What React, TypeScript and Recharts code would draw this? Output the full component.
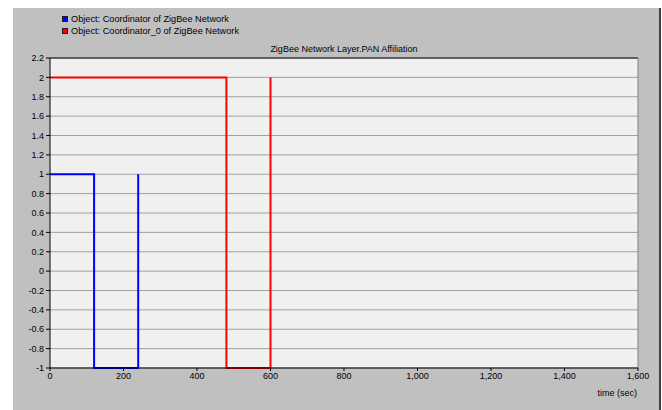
import React from "react";
import {
  LineChart,
  Line,
  XAxis,
  YAxis,
  CartesianGrid,
  ReferenceLine,
} from "recharts";

const blueTimes = [0, 120, 120, 240, 240];
const blueValues = [1, 1, -1, -1, 1];
const redTimes = [0, 480, 480, 600, 600];
const redValues = [2, 2, -1, -1, 2];
const xTicks = [0, 200, 400, 600, 800, 1000, 1200, 1400, 1600];
const yTicks = [-1, -0.8, -0.6, -0.4, -0.2, 0, 0.2, 0.4, 0.6, 0.8, 1, 1.2, 1.4, 1.6, 1.8, 2, 2.2];
const seriesNames = [
  "Object: Coordinator of ZigBee Network",
  "Object: Coordinator_0 of ZigBee Network",
];
const title = "ZigBee Network Layer.PAN Affiliation";
const xLabel = "time (sec)";

const blueData = blueTimes.map((t, i) => ({ t, v: blueValues[i] }));
const redData = redTimes.map((t, i) => ({ t, v: redValues[i] }));

const FONT = "'Liberation Sans', Arial, sans-serif";

const fmtX = (v: number) => v.toLocaleString("en-US");
const fmtY = (v: number) => {
  const r = Math.round(v * 10) / 10;
  return String(r);
};

export default function App() {
  return (
    <div
      style={{
        position: "absolute",
        left: 0,
        top: 0,
        width: 662,
        height: 410,
        background: "#ffffff",
        fontFamily: FONT,
      }}
    >
      <div
        style={{
          position: "absolute",
          left: 13,
          top: 8,
          width: 646,
          height: 402,
          background: "#c0c0c0",
          borderRight: "2px solid #404040",
        }}
      />
      {seriesNames.map((name, i) => (
        <div
          key={name}
          style={{
            position: "absolute",
            left: 62,
            top: 13 + i * 12,
            height: 12,
            display: "flex",
            alignItems: "center",
            fontSize: 9.2,
            color: "#000",
            whiteSpace: "nowrap",
          }}
        >
          <span
            style={{
              display: "inline-block",
              width: 4,
              height: 4,
              border: "1px solid #202020",
              background: i === 0 ? "#0000ff" : "#ff0000",
              marginRight: 3,
              boxSizing: "content-box",
            }}
          />
          <span>{name}</span>
        </div>
      ))}
      <div
        style={{
          position: "absolute",
          left: 50,
          width: 588,
          top: 44,
          textAlign: "center",
          fontSize: 9,
          color: "#000",
        }}
      >
        {title}
      </div>
      <div
        style={{
          position: "absolute",
          right: 662 - 637,
          top: 388,
          fontSize: 9,
          color: "#000",
        }}
      >
        {xLabel}
      </div>
      <div style={{ position: "absolute", left: 0, top: 0 }}>
        <LineChart
          width={662}
          height={410}
          margin={{ top: 58, right: 24, bottom: 12, left: 0 }}
        >
          <CartesianGrid vertical={false} stroke="#a0a0a0" fill="#f0f0f0" />
          <XAxis
            type="number"
            dataKey="t"
            domain={[0, 1600]}
            ticks={xTicks}
            tickFormatter={fmtX}
            height={30}
            stroke="#000"
            tickSize={3}
            tick={{ fill: "#000", fontSize: 9, fontFamily: FONT }}
            interval={0}
          />
          <YAxis
            type="number"
            domain={[-1, 2.2]}
            ticks={yTicks}
            tickFormatter={fmtY}
            width={50}
            stroke="#000"
            tickSize={4}
            tick={{ fill: "#000", fontSize: 9, fontFamily: FONT }}
            interval={0}
          />
          <ReferenceLine y={2.2} stroke="#404040" strokeWidth={1.5} />
          <ReferenceLine x={1600} stroke="#808080" strokeWidth={1} />
          <Line
            data={blueData}
            dataKey="v"
            type="linear"
            stroke="#0000ff"
            strokeWidth={2}
            dot={false}
            isAnimationActive={false}
          />
          <Line
            data={redData}
            dataKey="v"
            type="linear"
            stroke="#ff0000"
            strokeWidth={2}
            dot={false}
            isAnimationActive={false}
          />
        </LineChart>
      </div>
    </div>
  );
}
